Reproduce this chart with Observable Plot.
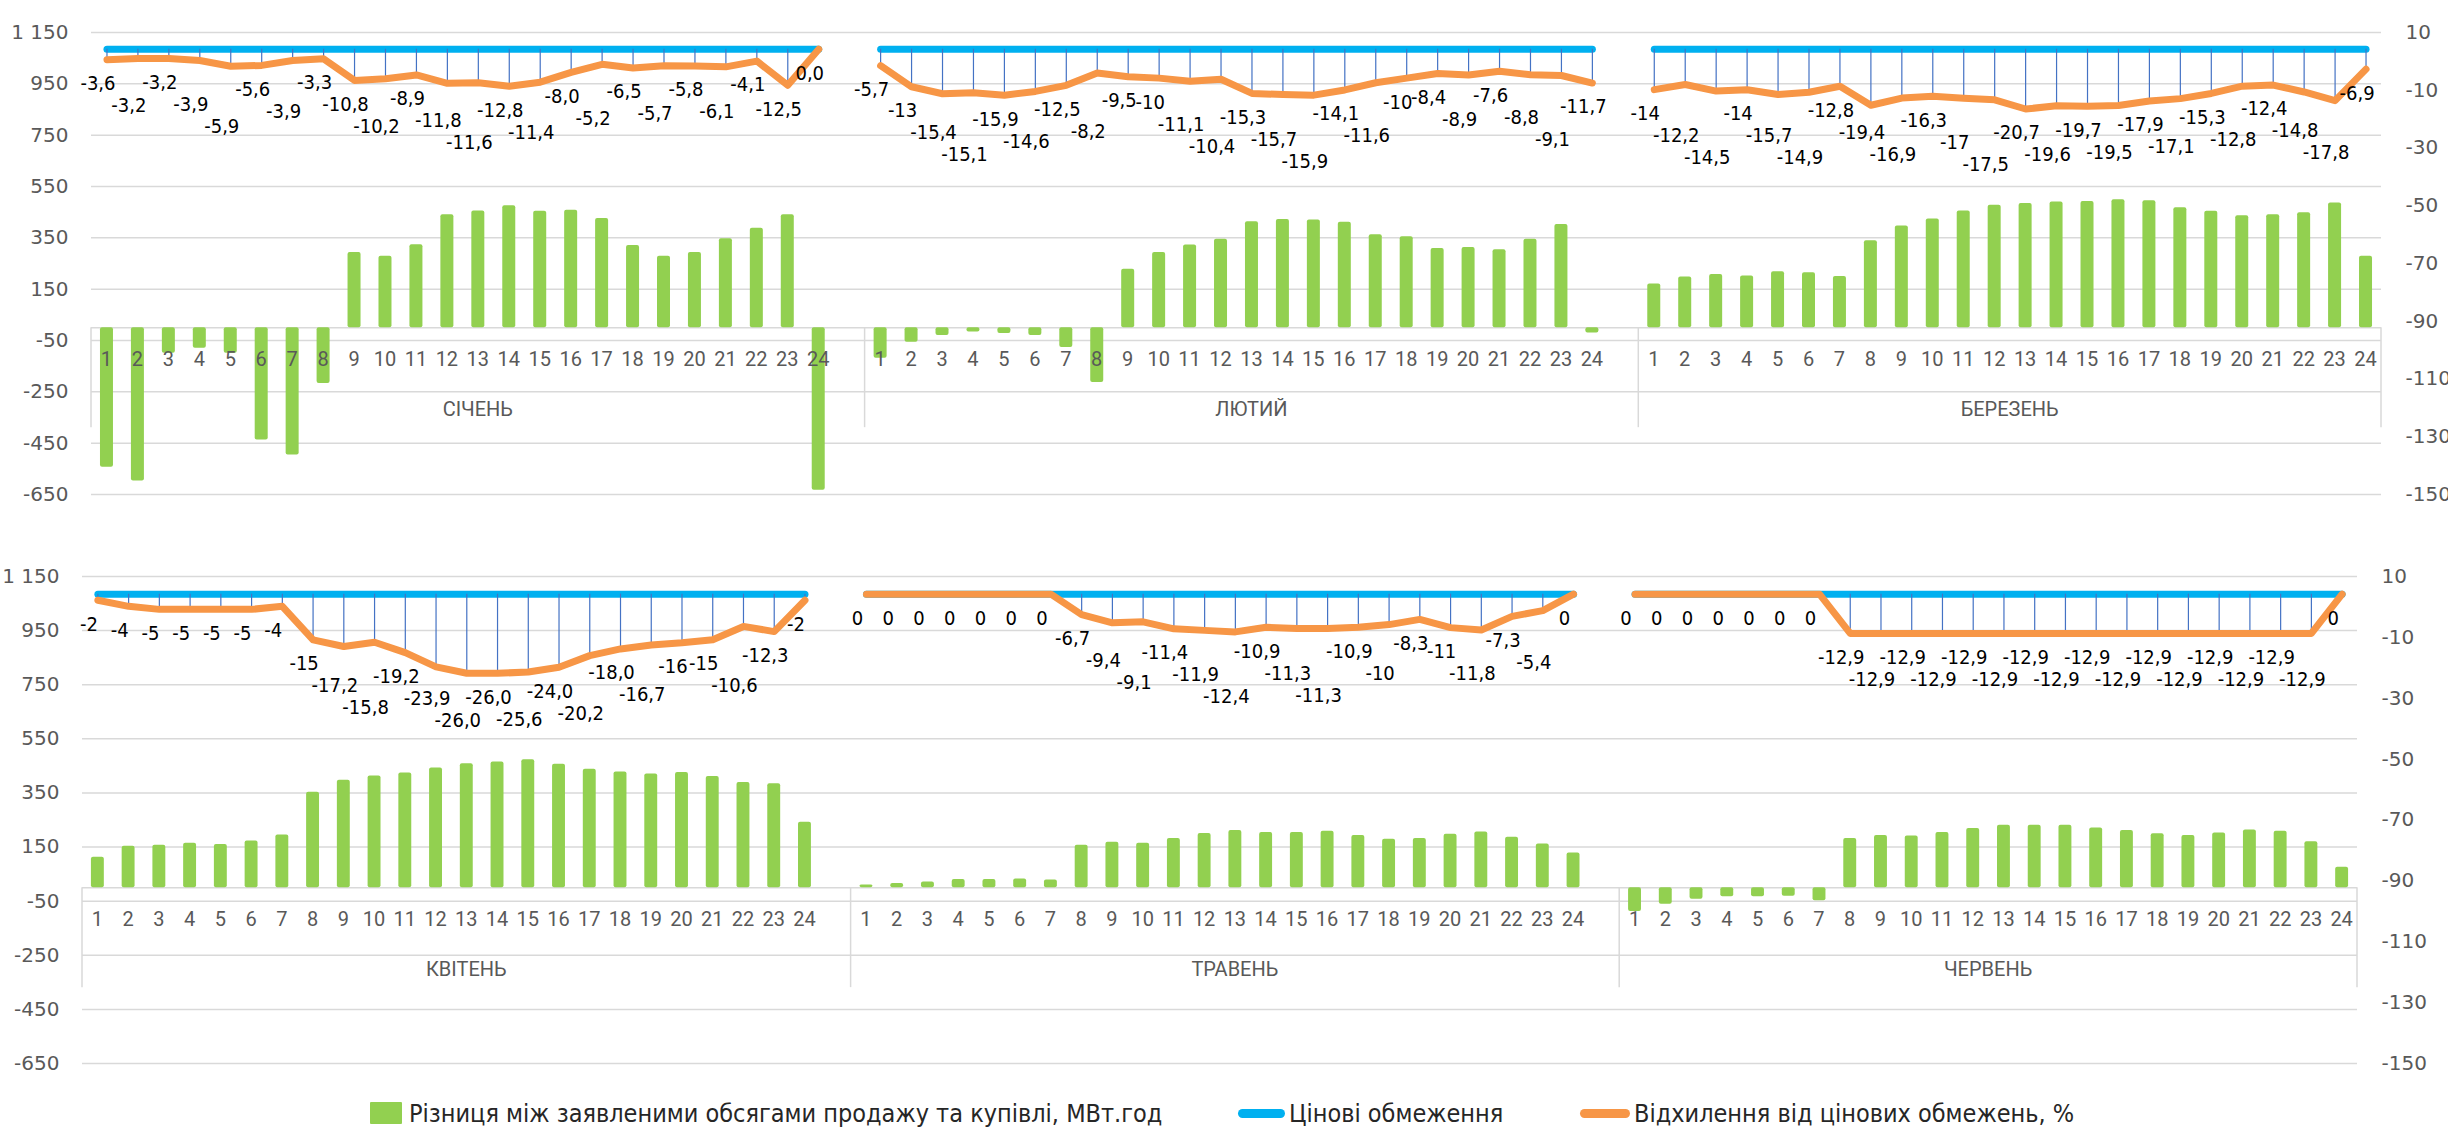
<!DOCTYPE html>
<html><head><meta charset="utf-8">
<script src="https://cdn.jsdelivr.net/npm/d3@7"></script>
<script src="https://cdn.jsdelivr.net/npm/@observablehq/plot@0.6"></script>
<style>
  body { margin: 0; background: #fff; width: 2448px; height: 1128px; overflow: hidden; }
  svg { display: block; }
  #legend { position: relative; height: 55px; font-family: "Liberation Sans Narrow", "DejaVu Sans Condensed", sans-serif; font-size: 25px; color: #262626; }
  #legend .sw { position: absolute; }
  #legend .tx { position: absolute; top: 40px; transform: translateY(-50%); white-space: nowrap; }
  [aria-label="y-axis tick label"] text, [aria-label="y-axis tick label"] { font-family: "DejaVu Sans", sans-serif; font-size: 20px; fill: #595959; }
</style>
</head><body>
<div id="top"></div>
<div id="bottom"></div>
<div id="legend"></div>
<script>
// ---------- data ----------
const hours = [1,2,3,4,5,6,7,8,9,10,11,12,13,14,15,16,17,18,19,20,21,22,23,24];
const monthsTop = ["СІЧЕНЬ", "ЛЮТИЙ", "БЕРЕЗЕНЬ"];
const monthsBottom = ["КВІТЕНЬ", "ТРАВЕНЬ", "ЧЕРВЕНЬ"];

// Різниця між заявленими обсягами продажу та купівлі, МВт.год
const barsJan = [-544,-597,-100,-80,-100,-438,-496,-218,293,278,323,440,455,475,454,457,425,320,278,293,346,387,440,-633];
const barsFeb = [-119,-57,-31,-17,-23,-31,-77,-214,228,293,322,344,413,421,419,411,362,354,308,312,304,344,402,-21];
const barsMar = [170,197,207,201,218,214,199,339,396,423,455,477,484,490,492,498,494,467,454,436,440,448,486,278];
const barsApr = [112,153,157,164,159,172,195,353,397,413,424,442,458,464,473,456,438,427,420,426,411,389,384,242];
const barsMay = [10,15,21,30,30,32,28,157,168,164,182,200,211,204,204,208,193,179,182,197,206,186,161,128];
const barsJun = [-88,-61,-43,-34,-34,-32,-48,182,193,191,204,219,231,231,231,220,211,199,193,202,213,208,170,75];

// Відхилення від цінових обмежень, %
const devJan = ["-3,6","-3,2","-3,2","-3,9","-5,9","-5,6","-3,9","-3,3","-10,8","-10,2","-8,9","-11,8","-11,6","-12,8","-11,4","-8,0","-5,2","-6,5","-5,7","-5,8","-6,1","-4,1","-12,5","0,0"];
const devFeb = ["-5,7","-13","-15,4","-15,1","-15,9","-14,6","-12,5","-8,2","-9,5","-10","-11,1","-10,4","-15,3","-15,7","-15,9","-14,1","-11,6","-10","-8,4","-8,9","-7,6","-8,8","-9,1","-11,7"];
const devMar = ["-14","-12,2","-14,5","-14","-15,7","-14,9","-12,8","-19,4","-16,9","-16,3","-17","-17,5","-20,7","-19,6","-19,7","-19,5","-17,9","-17,1","-15,3","-12,8","-12,4","-14,8","-17,8","-6,9"];
const devApr = ["-2","-4","-5","-5","-5","-5","-4","-15","-17,2","-15,8","-19,2","-23,9","-26,0","-26,0","-25,6","-24,0","-20,2","-18,0","-16,7","-16","-15","-10,6","-12,3","-2"];
const devMay = ["0","0","0","0","0","0","0","-6,7","-9,4","-9,1","-11,4","-11,9","-12,4","-10,9","-11,3","-11,3","-10,9","-10","-8,3","-11","-11,8","-7,3","-5,4","0"];
const devJun = ["0","0","0","0","0","0","0","-12,9","-12,9","-12,9","-12,9","-12,9","-12,9","-12,9","-12,9","-12,9","-12,9","-12,9","-12,9","-12,9","-12,9","-12,9","-12,9","0"];

// Цінові обмеження (level on the secondary axis)
const capLevel = 4.2;

// axes
const leftTicks = [1150, 950, 750, 550, 350, 150, -50, -250, -450, -650];
const leftTickLabels = ["1 150", "950", "750", "550", "350", "150", "-50", "-250", "-450", "-650"];
const rightTicks = [10, -10, -30, -50, -70, -90, -110, -130, -150];
const rightTickLabels = ["10", "-10", "-30", "-50", "-70", "-90", "-110", "-130", "-150"];

const legendLabels = ["Різниця між заявленими обсягами продажу та купівлі, МВт.год", "Цінові обмеження", "Відхилення від цінових обмежень, %"];

// ---------- helpers ----------
const primaryDomain = [-650, 1150];
const secondaryDomain = [-150, 10];
// map the secondary (right) axis onto primary units (both span the same pixels)
const toPrimary = v => primaryDomain[0] + (v - secondaryDomain[0]) * (primaryDomain[1] - primaryDomain[0]) / (secondaryDomain[1] - secondaryDomain[0]);
const leftLabel = new Map(leftTicks.map((t, i) => [t, leftTickLabels[i]]));
const rightPos = rightTicks.map(toPrimary);
const rightLabel = new Map(rightPos.map((p, i) => [p, rightTickLabels[i]]));

const C = { bar: "#92D050", cap: "#00B0F0", dev: "#F79646", hl: "#4472C4", grid: "#D9D9D9", axis: "#595959" };
const LABEL_FS = 20;
const W = 2448;

// approximate width of a data label (narrow font)
const charW = ch => ch === "-" ? 0.30 : ch === "," ? 0.25 : 0.47;
const textWidth = s => [...s].reduce((a, ch) => a + charW(ch), 0) * LABEL_FS + 3;

function buildPanel(months, bars, devs) {
  const domain = [];
  const rows = [];
  months.forEach((m, mi) => {
    hours.forEach((h, hi) => {
      const key = m + "|" + h;
      domain.push(key);
      const label = devs[mi][hi];
      rows.push({ key, slot: domain.length - 1, month: m, hour: h, value: bars[mi][hi], label, dev: +label.replace(",", ".") });
    });
    if (mi < months.length - 1) domain.push(m + "|gap");
  });
  return { domain, rows };
}

function panel(months, bars, devs, dims) {
  const { domain, rows } = buildPanel(months, bars, devs);
  const capY = toPrimary(capLevel);
  const priceY = d => toPrimary(capLevel + d.dev);

  // label placement below each point, pushed further down when it would collide with a neighbour
  const plotH = dims.height - dims.marginTop - dims.marginBottom;
  const unitsPerPx = (primaryDomain[1] - primaryDomain[0]) / plotH;
  const step = (W - dims.marginLeft - dims.marginRight) / domain.length;
  const dx = -9;
  const placed = [];
  rows.forEach(r => {
    const cx = r.slot * step + dx;
    const w = textWidth(r.label);
    const py = -priceY(r) / unitsPerPx; // pixel-ish (down = larger)
    let ly = py + 24;
    for (let pass = 0; pass < 4; pass++) {
      let moved = false;
      for (const p of placed.slice(-3)) {
        if (Math.abs(p.cx - cx) < (p.w + w) / 2 && Math.abs(p.ly - ly) < LABEL_FS + 1) {
          ly = p.ly + LABEL_FS + 2;
          moved = true;
        }
      }
      if (!moved) break;
    }
    placed.push({ cx, w, ly });
    r.labelY = -ly * unitsPerPx;
  });

  const decor = (index, scales) => {
    const x = scales.x, y = scales.y;
    const bw = x.bandwidth ? x.bandwidth() : 0;
    const st = x(domain[1]) - x(domain[0]);
    const y0 = y(0);
    const g = d3.create("svg:g");
    const lines = g.append("g").attr("stroke", C.grid).attr("stroke-width", 1.5);
    const bounds = [];
    months.forEach((m, mi) => {
      const start = x(m + "|1") + bw / 2 - st / 2;
      const lastKey = mi < months.length - 1 ? m + "|gap" : m + "|24";
      const end = x(lastKey) + bw / 2 + st / 2;
      bounds.push(start, end);
      g.append("text").attr("x", (start + end) / 2).attr("y", y0 + 84)
        .attr("text-anchor", "middle").attr("dominant-baseline", "middle")
        .attr("font-family", "Roboto, sans-serif").attr("font-size", 20).attr("fill", C.axis)
        .text(m);
    });
    [...new Set(bounds.map(b => Math.round(b * 10) / 10))].forEach(b => {
      lines.append("line").attr("x1", b).attr("x2", b).attr("y1", y0).attr("y2", y0 + 100);
    });
    const ht = g.append("g").attr("font-family", "Roboto, sans-serif").attr("font-size", 20)
      .attr("fill", C.axis).attr("text-anchor", "middle").attr("dominant-baseline", "middle");
    rows.forEach(r => ht.append("text").attr("x", x(r.key) + bw / 2).attr("y", y0 + 34).text(r.hour));
    return g.node();
  };

  return Plot.plot({
    width: W,
    height: dims.height,
    marginTop: dims.marginTop,
    marginBottom: dims.marginBottom,
    marginLeft: dims.marginLeft,
    marginRight: dims.marginRight,
    x: { type: "band", domain, paddingInner: 0.58, paddingOuter: 0.29, axis: null },
    y: { domain: primaryDomain, axis: null },
    style: { background: "#fff", overflow: "visible" },
    marks: [
      Plot.ruleY(leftTicks, { stroke: C.grid, strokeWidth: 1.5 }),
      Plot.ruleY([0], { stroke: C.grid, strokeWidth: 1.5 }),
      Plot.barY(rows, { x: "key", y: "value", fill: C.bar, rx: 2 }),
      Plot.line(rows, { x: "key", y: () => capY, z: "month", stroke: C.cap, strokeWidth: 7, strokeLinecap: "round" }),
      Plot.ruleX(rows, { x: "key", y1: () => capY, y2: priceY, stroke: C.hl, strokeWidth: 1.2 }),
      Plot.line(rows, { x: "key", y: priceY, z: "month", stroke: C.dev, strokeWidth: 7, strokeLinecap: "round", strokeLinejoin: "round" }),
      Plot.text(rows, { x: "key", y: "labelY", text: "label", dx, fontFamily: "'Liberation Sans Narrow', 'DejaVu Sans Condensed', sans-serif", fontSize: LABEL_FS, fill: "#000" }),
      Plot.axisY({ anchor: "left", ticks: leftTicks, tickFormat: d => leftLabel.get(d), tickSize: 0, tickPadding: 23, label: null }),
      Plot.axisY({ anchor: "right", ticks: rightPos, tickFormat: d => rightLabel.get(d), tickSize: 0, tickPadding: 24, label: null }),
      decor
    ]
  });
}

document.getElementById("top").append(
  panel(monthsTop, [barsJan, barsFeb, barsMar], [devJan, devFeb, devMar],
    { height: 540, marginTop: 32, marginBottom: 46, marginLeft: 91, marginRight: 67 }));
document.getElementById("bottom").append(
  panel(monthsBottom, [barsApr, barsMay, barsJun], [devApr, devMay, devJun],
    { height: 533, marginTop: 36, marginBottom: 10, marginLeft: 82, marginRight: 91 }));

// ---------- legend ----------
const lg = document.getElementById("legend");
const items = [
  { left: 370, tx: 409, sw: { width: 32, height: 22, background: C.bar, radius: 1 } },
  { left: 1238, tx: 1289, sw: { width: 47, height: 9, background: C.cap, radius: 5 } },
  { left: 1580, tx: 1634, sw: { width: 50, height: 9, background: C.dev, radius: 5 } }
];
items.forEach((it, i) => {
  const s = document.createElement("div");
  s.className = "sw";
  Object.assign(s.style, { left: it.left + "px", top: (40 - it.sw.height / 2) + "px", width: it.sw.width + "px", height: it.sw.height + "px", background: it.sw.background, borderRadius: it.sw.radius + "px" });
  lg.append(s);
  const t = document.createElement("div");
  t.className = "tx";
  t.style.left = it.tx + "px";
  t.textContent = legendLabels[i];
  lg.append(t);
});
</script>
</body></html>
